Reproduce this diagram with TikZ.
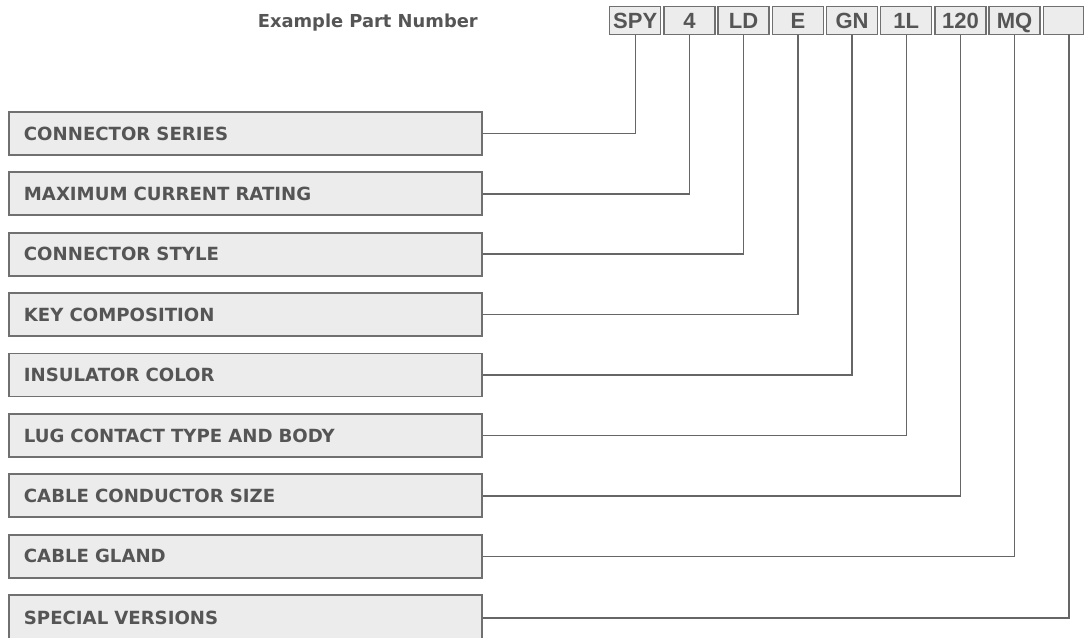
\documentclass[tikz,border=0pt]{standalone}
\usepackage{fontspec}
\newfontfamily\labelfont{DejaVu Sans}
\newfontfamily\partfont{Liberation Sans}
\definecolor{LabelGrey}{HTML}{555555}
\definecolor{BoxFill}{HTML}{ECECEC}
\definecolor{BoxLine}{HTML}{707070}
\definecolor{LeadLine}{HTML}{666666}
\usepackage{tikz}
\usetikzlibrary{positioning}

\begin{document}
\begin{tikzpicture}[x=0.75pt,y=-0.75pt,
    fieldbox/.style={draw=BoxLine,fill=BoxFill,line width=1.4pt,anchor=north west,
        minimum height=32.25pt,text width=332.25pt,inner xsep=11.25pt,inner ysep=0pt,
        align=left,text=LabelGrey,font=\labelfont\bfseries\fontsize{13.6}{16}\selectfont},
    codebox/.style={draw=BoxLine,fill=BoxFill,line width=1.1pt,anchor=north west,
        minimum width=38.25pt,minimum height=21pt,inner sep=0pt,
        text height=11.8pt,text depth=0pt,
        text=LabelGrey,font=\partfont\bfseries\fontsize{16.5}{18}\selectfont},
    lead/.style={draw=LeadLine,line width=1.1pt}]
    \useasboundingbox (0,0) rectangle (1086,638);

    % Heading
    \node[anchor=base east,inner sep=0pt,text=LabelGrey,
        font=\labelfont\bfseries\fontsize{13.4}{16}\selectfont] (title) at (478,28) {Example Part Number};

    % Part number fields
    \node[codebox] (spy) at (609,6) {SPY};
    \node[codebox] (four) at (663.2,6) {4};
    \node[codebox] (ld) at (717.4,6) {LD};
    \node[codebox] (e) at (771.6,6) {E};
    \node[codebox] (gn) at (825.8,6) {GN};
    \node[codebox] (onel) at (880,6) {1L};
    \node[codebox] (onetwenty) at (934.2,6) {120};
    \node[codebox] (mq) at (988.4,6) {MQ};
    \node[codebox,minimum width=30pt] (blank) at (1042.6,6) {};
    \coordinate (blankfoot) at (1069,34);

    % Description boxes
    \node[fieldbox] (series) at (8,111) {CONNECTOR SERIES};
    \node[fieldbox] (current) at (8,171.4) {MAXIMUM CURRENT RATING};
    \node[fieldbox] (style) at (8,231.8) {CONNECTOR STYLE};
    \node[fieldbox] (key) at (8,292.2) {KEY COMPOSITION};
    \node[fieldbox] (color) at (8,352.6) {INSULATOR COLOR};
    \node[fieldbox] (lug) at (8,413) {LUG CONTACT TYPE AND BODY};
    \node[fieldbox] (cable) at (8,473.4) {CABLE CONDUCTOR SIZE};
    \node[fieldbox] (gland) at (8,533.8) {CABLE GLAND};
    \node[fieldbox,minimum height=34.5pt] (special) at (8,594.2) {SPECIAL VERSIONS};

    % Leader lines
    \draw[lead] (series.east) -| (spy.south);
    \draw[lead] (current.east) -| (four.south);
    \draw[lead] (style.east) -| (ld.south);
    \draw[lead] (key.east) -| (e.south);
    \draw[lead] (color.east) -| (gn.south);
    \draw[lead] (lug.east) -| (onel.south);
    \draw[lead] (cable.east) -| (onetwenty.south);
    \draw[lead] (gland.east) -| (mq.south);
    \draw[lead] (special.east) -| (blankfoot);
\end{tikzpicture}
\end{document}
